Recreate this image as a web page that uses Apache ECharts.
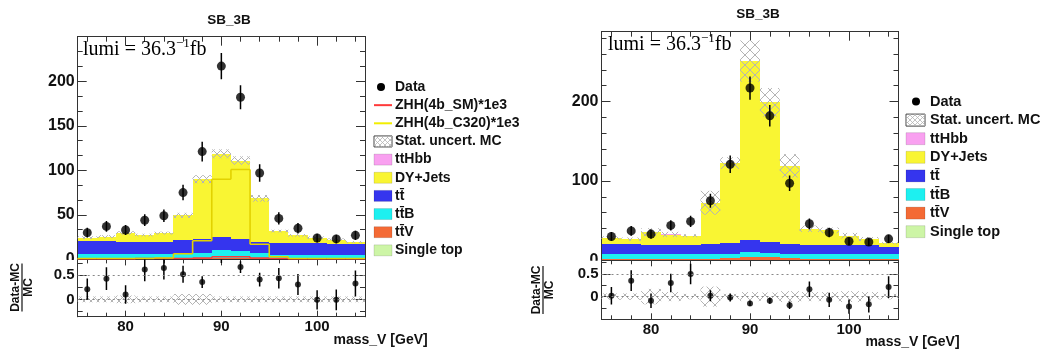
<!DOCTYPE html>
<html>
<head>
<meta charset="utf-8">
<script src="https://cdn.jsdelivr.net/npm/echarts@6.0.0/dist/echarts.min.js"></script>
<style>
html,body{margin:0;padding:0;background:#fff;}
#chart{width:1040px;height:354px;}
</style>
</head>
<body>
<div id="chart"></div>
<script>
// ---------------- data ----------------
const binEdges = [75,77,79,81,83,85,87,89,91,93,95,97,99,101,103,105];
const xMajorTicks = [80,90,100];
const xMinorTicks = [76,78,82,84,86,88,92,94,96,98,102,104];
const xTickLabels = [80,90,100];
const yLeftMainLabels = [0,50,100,150,200];
const yLeftMainMajor = [0,50,100,150,200,250];
const yLeftMainMinor = [16.67,33.33,66.67,83.33,116.67,133.33,166.67,183.33,216.67,233.33];
const yRightMainLabels = [0,100,200];
const yRightMainMinor = [20,40,60,80,120,140,160,180,220,240,260,280];
const yRatioLabels = [0,0.5];
const yRatioMinor = [-0.25,0.25,0.75];

const dataCounts = [30,37,33,44,49,75,121,217,182,97,46,35,24,23,27];
const dataErr    = [5.5,6.1,5.7,6.6,7.0,8.7,11.0,14.7,13.5,9.8,6.8,5.9,4.9,4.8,5.2];

// left panel (stack bottom -> top)
const singleTopL = [0.8,0.8,0.8,0.8,0.8,0.8,0.8,0.8,0.8,0.8,0.8,0.8,0.8,0.8,0.8];
const ttVL       = [0.3,0.3,0.3,0.3,0.3,0.4,0.6,1.0,0.9,0.6,0.3,0.3,0.3,0.3,0.3];
const ttBL       = [4.9,4.9,4.9,4.9,4.9,5.3,6.1,8.2,7.3,5.6,4.4,4.4,4.4,4.4,4.4];
const ttbarL     = [14.5,14.5,13.7,13.0,13.0,15.5,15.3,15.0,13.5,12.8,12.8,12.8,12.8,12.3,11.5];
const dyL        = [3.9,5.1,10.0,8.2,10.5,27.4,67.1,93.4,88.4,48.6,13.4,8.6,5.9,4.4,2.2];
const tthbbL     = [0.1,0.1,0.1,0.1,0.1,0.1,0.1,0.1,0.1,0.1,0.1,0.1,0.1,0.1,0.1];
const statErrL   = [1.5,1.5,1.8,1.5,1.5,2.8,4.5,5.0,4.7,3.7,1.5,1.5,1.5,1.2,1.0];
const zhhSML     = [0,0,0,1,1,1,1.5,3,3,1.5,1,0,0,0,0];
const zhhC320L   = [1,1,1,1,1.5,6.4,21,90,101,17,3,1,1,1,1];
const ratioL     = [0.21,0.43,0.10,0.62,0.65,0.52,0.36,0.88,0.67,0.41,0.44,0.31,-0.01,-0.01,0.33];
const ratioBandL = [0.06,0.06,0.08,0.06,0.06,0.11,0.11,0.06,0.06,0.06,0.06,0.06,0.06,0.06,0.06];

// right panel
const singleTopR = [0.8,0.8,0.8,0.8,0.8,0.8,0.8,0.8,0.8,0.8,0.8,0.8,0.8,0.8,0.8];
const ttVR       = [0.3,0.3,0.3,0.3,0.3,0.4,1.5,3.5,3.5,1.5,0.3,0.3,0.3,0.3,0.3];
const ttBR       = [7.3,7.3,6.4,6.4,6.4,6.3,6.2,6.2,4.7,6.1,6.4,6.4,6.4,6.4,6.9];
const ttbarR     = [12.6,12.6,12.2,12.2,11.5,13.5,13.5,15.5,14.0,12.6,12.2,11.5,12.2,11.5,8.8];
const dyR        = [7.2,5.6,15.6,12.8,11.9,51.4,100.4,224.9,175.9,97.9,20.0,18.6,11.2,7.7,4.7];
const tthbbR     = [0.1,0.1,0.1,0.1,0.1,0.1,0.1,0.1,0.1,0.1,0.1,0.1,0.1,0.1,0.1];
const statErrR   = [2.0,2.0,5.0,3.3,1.8,15.0,7.4,26.0,18.0,14.7,4.0,3.6,3.5,2.5,1.2];
const ratioR     = [0.02,0.35,-0.09,0.30,0.50,0.02,-0.02,-0.15,-0.09,-0.19,0.16,-0.07,-0.22,-0.17,0.21];
const ratioBandR = [0.07,0.07,0.17,0.10,0.06,0.22,0.06,0.10,0.09,0.12,0.10,0.10,0.12,0.10,0.06];

// ---------------- style ----------------
const FS = "'Liberation Sans', Arial, Helvetica, sans-serif";
const SERIF = "'Liberation Serif', 'Times New Roman', serif";
const FW = 'bold';
const FRAME = '#333';
const TXT = '#111';
const C = {
  single: '#cdf5a6', ttV: '#f46a35', ttB: '#1df0f0', ttbar: '#3535ee',
  dy: '#f9f533', tthbb: '#f9a0f0', sm: '#ff3a3a', c320: '#e2d200', hatch: '#b4b4b4'
};

const grids = [
  {left:77.7, top:36.7, width:287.3, height:222.7},
  {left:77.7, top:259.4, width:287.3, height:57.3},
  {left:601.5, top:31.7, width:297, height:228.6},
  {left:601.5, top:260.3, width:297, height:59}
];

const centers = binEdges.slice(0, -1).map((e, i) => (e + binEdges[i + 1]) / 2);

function tick(len, vals) {
  return {show:true, inside:true, length:len, customValues:vals, lineStyle:{color:FRAME, width:1}};
}
function baseAxis(g, min, max, pos) {
  return {type:'value', gridIndex:g, min, max, position:pos, splitLine:{show:false},
    axisLine:{show:true, onZero:false, lineStyle:{color:FRAME, width:1}}, axisLabel:{show:false}};
}
function xAxesFor(g, majLen, minLen, withLabels) {
  const a0 = Object.assign(baseAxis(g,75,105,'bottom'), {axisTick: tick(majLen, xMajorTicks)});
  if (withLabels) {
    a0.axisLabel = {show:true, customValues:xTickLabels, margin:3, fontSize:15, color:TXT, fontFamily:FS, fontWeight:FW};
    a0.name = 'mass_V [GeV]';
    a0.nameLocation = 'end';
    a0.nameGap = 0;
    a0.nameTextStyle = {fontSize:14, fontFamily:FS, fontWeight:FW, color:TXT, align:'right', verticalAlign:'top', padding:[16,0,0,0]};
  }
  return [
    a0,
    Object.assign(baseAxis(g,75,105,'bottom'), {axisTick: tick(minLen, xMinorTicks)}),
    Object.assign(baseAxis(g,75,105,'top'), {axisTick: tick(majLen, xMajorTicks)}),
    Object.assign(baseAxis(g,75,105,'top'), {axisTick: tick(minLen, xMinorTicks)})
  ];
}
function yAxesFor(g, min, max, major, minor, labels, majLen, minLen, fontSize) {
  const a0 = Object.assign(baseAxis(g,min,max,'left'), {axisTick: tick(majLen, major)});
  a0.axisLabel = {show:true, customValues:labels, margin:3, fontSize, color:TXT, fontFamily:FS, fontWeight:FW};
  return [
    a0,
    Object.assign(baseAxis(g,min,max,'left'), {axisTick: tick(minLen, minor)}),
    Object.assign(baseAxis(g,min,max,'right'), {axisTick: tick(majLen, major)}),
    Object.assign(baseAxis(g,min,max,'right'), {axisTick: tick(minLen, minor)})
  ];
}

const xAxes = [].concat(
  xAxesFor(0, 9, 5, false), xAxesFor(1, 6, 4, true),
  xAxesFor(2, 9, 5, false), xAxesFor(3, 6, 4, true));
const yAxes = [].concat(
  yAxesFor(0, 0, 250, yLeftMainMajor, yLeftMainMinor, yLeftMainLabels, 9, 5, 16),
  yAxesFor(1, -0.36, 0.83, yRatioLabels, yRatioMinor, yRatioLabels, 9, 5, 15),
  yAxesFor(2, 0, 288, yRightMainLabels, yRightMainMinor, yRightMainLabels, 9, 5, 16),
  yAxesFor(3, -0.5, 0.8, yRatioLabels, yRatioMinor, yRatioLabels, 9, 5, 15));

// ---------------- renderers ----------------
function rectRender(color) {
  return function (params, api) {
    const a = api.coord([api.value(0), api.value(3)]);
    const b = api.coord([api.value(1), api.value(2)]);
    const x0 = Math.round(a[0]), x1 = Math.round(b[0]);
    const y0 = Math.round(a[1]), y1 = Math.round(b[1]);
    return {type:'rect', shape:{x:x0, y:y0, width:x1 - x0, height:y1 - y0}, style:{fill:color}};
  };
}
function hatchRender(color, step) {
  return function (params, api) {
    const p = api.coord([api.value(0), api.value(3)]);
    const q = api.coord([api.value(1), api.value(2)]);
    const x0 = p[0], y0 = p[1], x1 = q[0], y1 = q[1];
    const ch = [];
    const st = {stroke:color, lineWidth:1};
    for (let c = Math.ceil((x0 + y0) / step) * step; c <= x1 + y1; c += step) {
      const xs = Math.max(x0, c - y1), xe = Math.min(x1, c - y0);
      if (xe > xs) ch.push({type:'line', shape:{x1:xs, y1:c - xs, x2:xe, y2:c - xe}, style:st});
    }
    for (let c = Math.ceil((x0 - y1) / step) * step; c <= x1 - y0; c += step) {
      const xs = Math.max(x0, c + y0), xe = Math.min(x1, c + y1);
      if (xe > xs) ch.push({type:'line', shape:{x1:xs, y1:xs - c, x2:xe, y2:xe - c}, style:st});
    }
    return {type:'group', children:ch};
  };
}
function stepRender(color) {
  return function (params, api) {
    const a = api.coord([api.value(0), api.value(2)]);
    const b = api.coord([api.value(1), api.value(2)]);
    const c = api.coord([api.value(0), api.value(3)]);
    const st = {stroke:color, lineWidth:1.6};
    return {type:'group', children:[
      {type:'line', shape:{x1:a[0], y1:a[1], x2:b[0], y2:b[1]}, style:st},
      {type:'line', shape:{x1:c[0], y1:c[1], x2:a[0], y2:a[1]}, style:st}
    ]};
  };
}
function errRender(params, api) {
  const a = api.coord([api.value(0), api.value(1)]);
  const b = api.coord([api.value(0), api.value(2)]);
  return {type:'line', shape:{x1:a[0], y1:a[1], x2:b[0], y2:b[1]}, style:{stroke:'#000', lineWidth:1.5}};
}

const series = [];
function custom(name, g, data, renderItem, encode) {
  series.push({type:'custom', name, xAxisIndex:g * 4, yAxisIndex:g * 4, clip:true, silent:true,
    animation:false, data, renderItem, encode});
}

function buildPanel(g, comps, statErr, hatchStep, lines, ratio, ratioBand, markerSize, ratioMarkerSize) {
  let base = centers.map(() => 0);
  comps.forEach(cp => {
    const b0 = base.slice();
    custom(cp.name, g, cp.vals.map((v, i) => [binEdges[i], binEdges[i + 1], b0[i], b0[i] + v]),
      rectRender(cp.color), {x:[0, 1], y:[2, 3]});
    base = base.map((b, i) => b + cp.vals[i]);
  });
  const total = base;
  custom('Stat. uncert. MC', g, total.map((t, i) => [binEdges[i], binEdges[i + 1], t - statErr[i], t + statErr[i]]),
    hatchRender(C.hatch, hatchStep), {x:[0, 1], y:[2, 3]});
  lines.forEach(ln => {
    custom(ln.name, g, ln.vals.map((v, i) => [binEdges[i], binEdges[i + 1], v, i ? ln.vals[i - 1] : 0]),
      stepRender(ln.color), {x:[0, 1], y:[2, 3]});
  });
  custom('Data err', g, dataCounts.map((v, i) => [centers[i], v - dataErr[i], v + dataErr[i]]), errRender, {x:0, y:[1, 2]});
  series.push({type:'scatter', name:'Data', xAxisIndex:g * 4, yAxisIndex:g * 4, symbol:'circle', symbolSize:markerSize,
    itemStyle:{color:'#000'}, silent:true, animation:false, clip:true,
    data: dataCounts.map((v, i) => [centers[i], v])});

  // ratio panel
  const r = g + 1;
  custom('Ratio band', r, ratioBand.map((b, i) => [binEdges[i], binEdges[i + 1], -b, b]),
    hatchRender(C.hatch, hatchStep), {x:[0, 1], y:[2, 3]});
  custom('Ratio err', r, ratio.map((v, i) => [centers[i], v - dataErr[i] / total[i], v + dataErr[i] / total[i]]),
    errRender, {x:0, y:[1, 2]});
  series.push({type:'scatter', name:'Ratio', xAxisIndex:r * 4, yAxisIndex:r * 4, symbol:'circle', symbolSize:ratioMarkerSize,
    itemStyle:{color:'#000'}, silent:true, animation:false, clip:true,
    data: ratio.map((v, i) => [centers[i], v]),
    markLine:{silent:true, symbol:'none', animation:false, label:{show:false},
      lineStyle:{type:[2, 3], color:'#888', width:1}, data:[{yAxis:0.5}, {yAxis:0}]}});
}

buildPanel(0, [
  {name:'Single top', vals:singleTopL, color:C.single},
  {name:'tt̄V', vals:ttVL, color:C.ttV},
  {name:'tt̄B', vals:ttBL, color:C.ttB},
  {name:'tt̄', vals:ttbarL, color:C.ttbar},
  {name:'DY+Jets', vals:dyL, color:C.dy},
  {name:'ttHbb', vals:tthbbL, color:C.tthbb}
], statErrL, 7, [
  {name:'ZHH(4b_SM)*1e3', vals:zhhSML, color:C.sm},
  {name:'ZHH(4b_C320)*1e3', vals:zhhC320L, color:C.c320}
], ratioL, ratioBandL, 9, 6);

buildPanel(2, [
  {name:'Single top', vals:singleTopR, color:C.single},
  {name:'tt̄V', vals:ttVR, color:C.ttV},
  {name:'tt̄B', vals:ttBR, color:C.ttB},
  {name:'tt̄', vals:ttbarR, color:C.ttbar},
  {name:'DY+Jets', vals:dyR, color:C.dy},
  {name:'ttHbb', vals:tthbbR, color:C.tthbb}
], statErrR, 10, [], ratioR, ratioBandR, 9, 6);

// ---------------- legends / texts ----------------
const legendEntriesL = [
  {label:'Data', kind:'marker'},
  {label:'ZHH(4b_SM)*1e3', kind:'line', color:C.sm},
  {label:'ZHH(4b_C320)*1e3', kind:'line', color:'#f2ee00'},
  {label:'Stat. uncert. MC', kind:'hatch'},
  {label:'ttHbb', kind:'box', color:C.tthbb},
  {label:'DY+Jets', kind:'box', color:C.dy},
  {label:'tt̄', kind:'box', color:C.ttbar},
  {label:'tt̄B', kind:'box', color:C.ttB},
  {label:'tt̄V', kind:'box', color:C.ttV},
  {label:'Single top', kind:'box', color:C.single}
];
const legendEntriesR = [
  {label:'Data', kind:'marker'},
  {label:'Stat. uncert. MC', kind:'hatch'},
  {label:'ttHbb', kind:'box', color:C.tthbb},
  {label:'DY+Jets', kind:'box', color:C.dy},
  {label:'tt̄', kind:'box', color:C.ttbar},
  {label:'tt̄B', kind:'box', color:C.ttB},
  {label:'tt̄V', kind:'box', color:C.ttV},
  {label:'Single top', kind:'box', color:C.single}
];

const graphics = [];
function hatchLines(x0, y0, x1, y1, step, color) {
  const out = [];
  const st = {stroke:color, lineWidth:0.8};
  for (let c = Math.ceil((x0 + y0) / step) * step; c <= x1 + y1; c += step) {
    const xs = Math.max(x0, c - y1), xe = Math.min(x1, c - y0);
    if (xe > xs) out.push({type:'line', shape:{x1:xs, y1:c - xs, x2:xe, y2:c - xe}, style:st});
  }
  for (let c = Math.ceil((x0 - y1) / step) * step; c <= x1 - y0; c += step) {
    const xs = Math.max(x0, c + y0), xe = Math.min(x1, c + y1);
    if (xe > xs) out.push({type:'line', shape:{x1:xs, y1:xs - c, x2:xe, y2:xe - c}, style:st});
  }
  return out;
}
function addLegend(entries, x0, textX, y0, step, bw, bh, fontSize, markerX) {
  entries.forEach((e, k) => {
    const cy = y0 + k * step;
    if (e.kind === 'marker') {
      graphics.push({type:'circle', shape:{cx:markerX, cy, r:4}, style:{fill:'#000'}, z:100});
    } else if (e.kind === 'line') {
      graphics.push({type:'line', shape:{x1:x0, y1:cy, x2:x0 + bw, y2:cy}, style:{stroke:e.color, lineWidth:2}, z:100});
    } else if (e.kind === 'box') {
      graphics.push({type:'rect', shape:{x:x0, y:cy - bh / 2, width:bw, height:bh},
        style:{fill:e.color, stroke:'rgba(0,0,0,0.12)', lineWidth:1}, z:100});
    } else {
      graphics.push({type:'rect', shape:{x:x0, y:cy - bh / 2, width:bw, height:bh},
        style:{fill:'#fff', stroke:'#444', lineWidth:1}, z:100});
      hatchLines(x0, cy - bh / 2, x0 + bw, cy + bh / 2, 5, '#b4b4b4').forEach(l => { l.z = 101; graphics.push(l); });
    }
    graphics.push({type:'text', x:textX, y:cy, z:100,
      style:{text:e.label, fontSize, fontFamily:FS, fontWeight:FW, fill:TXT, align:'left', verticalAlign:'middle'}});
  });
}
addLegend(legendEntriesL, 374, 395, 87, 18.15, 18, 11, 14, 381);
addLegend(legendEntriesR, 906, 930, 101.5, 18.6, 19, 12, 14.5, 916);

// titles
graphics.push({type:'text', x:229, y:20, z:100, style:{text:'SB_3B', fontSize:13.5, fontFamily:FS, fontWeight:FW, fill:TXT, align:'center', verticalAlign:'middle'}});
graphics.push({type:'text', x:758, y:14, z:100, style:{text:'SB_3B', fontSize:13.5, fontFamily:FS, fontWeight:FW, fill:TXT, align:'center', verticalAlign:'middle'}});

// lumi labels
const mctx = document.createElement('canvas').getContext('2d');
function textW(t, size) { mctx.font = size + 'px ' + SERIF; return mctx.measureText(t).width; }
function addLumi(x, y) {
  const main = 'lumi = 36.3', sup = '\u22121', tail = 'fb';
  const w1 = textW(main, 20), w2 = textW(sup, 13);
  graphics.push({type:'text', x, y, z:100, style:{text:main, fontSize:20, fontFamily:SERIF, fill:'#000', align:'left', verticalAlign:'middle'}});
  graphics.push({type:'text', x:x + w1, y:y - 6, z:100, style:{text:sup, fontSize:13, fontFamily:SERIF, fill:'#000', align:'left', verticalAlign:'middle'}});
  graphics.push({type:'text', x:x + w1 + w2, y, z:100, style:{text:tail, fontSize:20, fontFamily:SERIF, fill:'#000', align:'left', verticalAlign:'middle'}});
}
addLumi(83, 50);
addLumi(608, 45);

// ratio axis titles (Data-MC / MC)
function addRatioTitle(xText, xBar, xMC, yc) {
  graphics.push({type:'text', x:xText, y:yc, rotation:Math.PI / 2, z:100,
    style:{text:'Data-MC', fontSize:12, fontFamily:FS, fontWeight:FW, fill:TXT, align:'center', verticalAlign:'middle'}});
  graphics.push({type:'line', shape:{x1:xBar, y1:yc - 24, x2:xBar, y2:yc + 24}, style:{stroke:TXT, lineWidth:1.2}, z:100});
  graphics.push({type:'text', x:xMC, y:yc, rotation:Math.PI / 2, z:100,
    style:{text:'MC', fontSize:12, fontFamily:FS, fontWeight:FW, fill:TXT, align:'center', verticalAlign:'middle'}});
}
addRatioTitle(15.5, 22, 28.5, 287.5);
addRatioTitle(536.5, 543, 549.5, 290);

// partial hiding of main-panel "0" label (clipped by the ratio pad in the original)
graphics.push({type:'rect', shape:{x:40, y:259.9, width:36.5, height:7.3}, style:{fill:'#fff'}, z:90});
graphics.push({type:'rect', shape:{x:560, y:260.8, width:40, height:7}, style:{fill:'#fff'}, z:90});

const chart = echarts.init(document.getElementById('chart'), null, {renderer:'canvas'});
chart.setOption({
  animation:false,
  backgroundColor:'#fff',
  grid: grids.map(g => Object.assign({containLabel:false, show:false}, g)),
  xAxis: xAxes,
  yAxis: yAxes,
  series,
  graphic: {elements: graphics}
});
</script>
</body>
</html>
